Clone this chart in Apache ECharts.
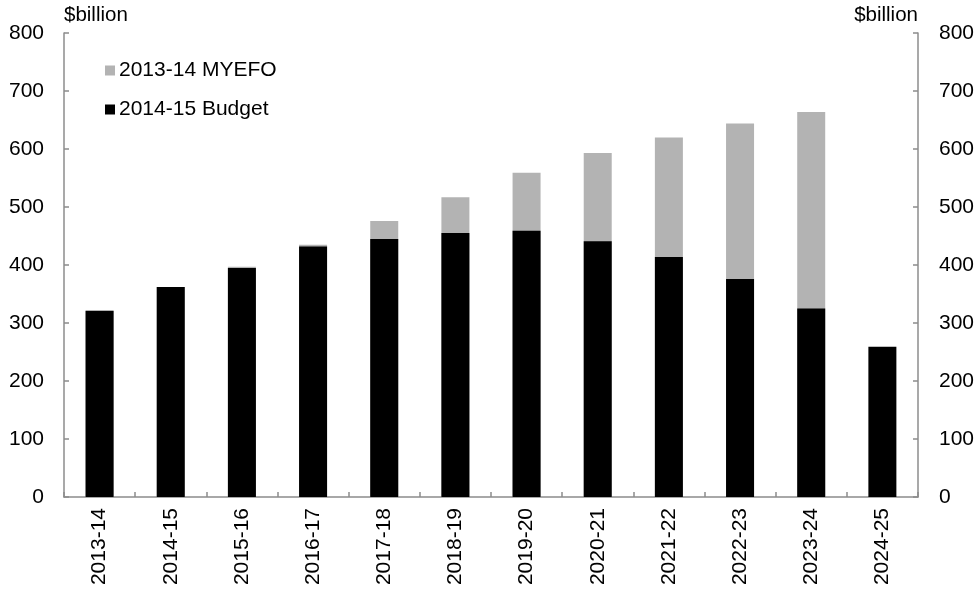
<!DOCTYPE html>
<html>
<head>
<meta charset="utf-8">
<script src="https://cdn.jsdelivr.net/npm/echarts@6/dist/echarts.min.js"></script>
<style>
html,body{margin:0;padding:0;background:#fff;}
#c{width:977px;height:591px;}
</style>
</head>
<body>
<div id="c"></div>
<script>
var categories = ['2013-14','2014-15','2015-16','2016-17','2017-18','2018-19','2019-20','2020-21','2021-22','2022-23','2023-24','2024-25'];
var myefo = [321, 362, 397, 435, 476, 517, 559, 593, 620, 644, 664, null];
var budget = [321, 362, 395, 432, 445, 455, 459, 441, 414, 376, 325, 259];
var yTicks = {min: 0, max: 800, interval: 100};
var seriesNames = ['2013-14 MYEFO', '2014-15 Budget'];

var font = 'Liberation Sans, Arial, sans-serif';
var axisColor = '#8c8c8c';
var chart = echarts.init(document.getElementById('c'), null, {renderer: 'canvas'});

function yAxis(pos, align, margin) {
  return {
    type: 'value',
    position: pos,
    min: yTicks.min, max: yTicks.max, interval: yTicks.interval,
    name: '$billion',
    nameLocation: 'end',
    nameGap: 18,
    nameTextStyle: {fontFamily: font, fontSize: 20.5, color: '#000', align: align, verticalAlign: 'middle'},
    axisLine: {show: true, lineStyle: {color: axisColor, width: 1.5}},
    axisTick: {show: true, inside: true, length: 5, lineStyle: {color: axisColor, width: 1.5}},
    axisLabel: {fontFamily: font, fontSize: 21, color: '#000', margin: margin},
    splitLine: {show: false}
  };
}

chart.setOption({
  animation: false,
  backgroundColor: '#fff',
  grid: {left: 64, right: 59, top: 33, bottom: 94, containLabel: false},
  legend: {
    orient: 'vertical',
    left: 105, top: 60,
    padding: 0,
    itemWidth: 10, itemHeight: 10,
    itemGap: 18,
    icon: 'rect',
    textStyle: {fontFamily: font, fontSize: 21, color: '#000', padding: [0,0,0,-1]},
    data: seriesNames
  },
  xAxis: {
    type: 'category',
    data: categories,
    axisLine: {show: true, lineStyle: {color: axisColor, width: 1.5}},
    axisTick: {show: true, inside: true, length: 5, alignWithLabel: false, lineStyle: {color: axisColor, width: 1.5}},
    axisLabel: {rotate: 90, fontFamily: font, fontSize: 21, color: '#000', margin: 11, interval: 0}
  },
  yAxis: [yAxis('left', 'left', 20), yAxis('right', 'right', 21)],
  series: [
    {name: seriesNames[0], type: 'bar', data: myefo, barWidth: 28, barGap: '-100%',
     itemStyle: {color: '#b3b3b3'}},
    {name: seriesNames[1], type: 'bar', data: budget, barWidth: 28, barGap: '-100%',
     itemStyle: {color: '#000000'}}
  ]
});
</script>
</body>
</html>
